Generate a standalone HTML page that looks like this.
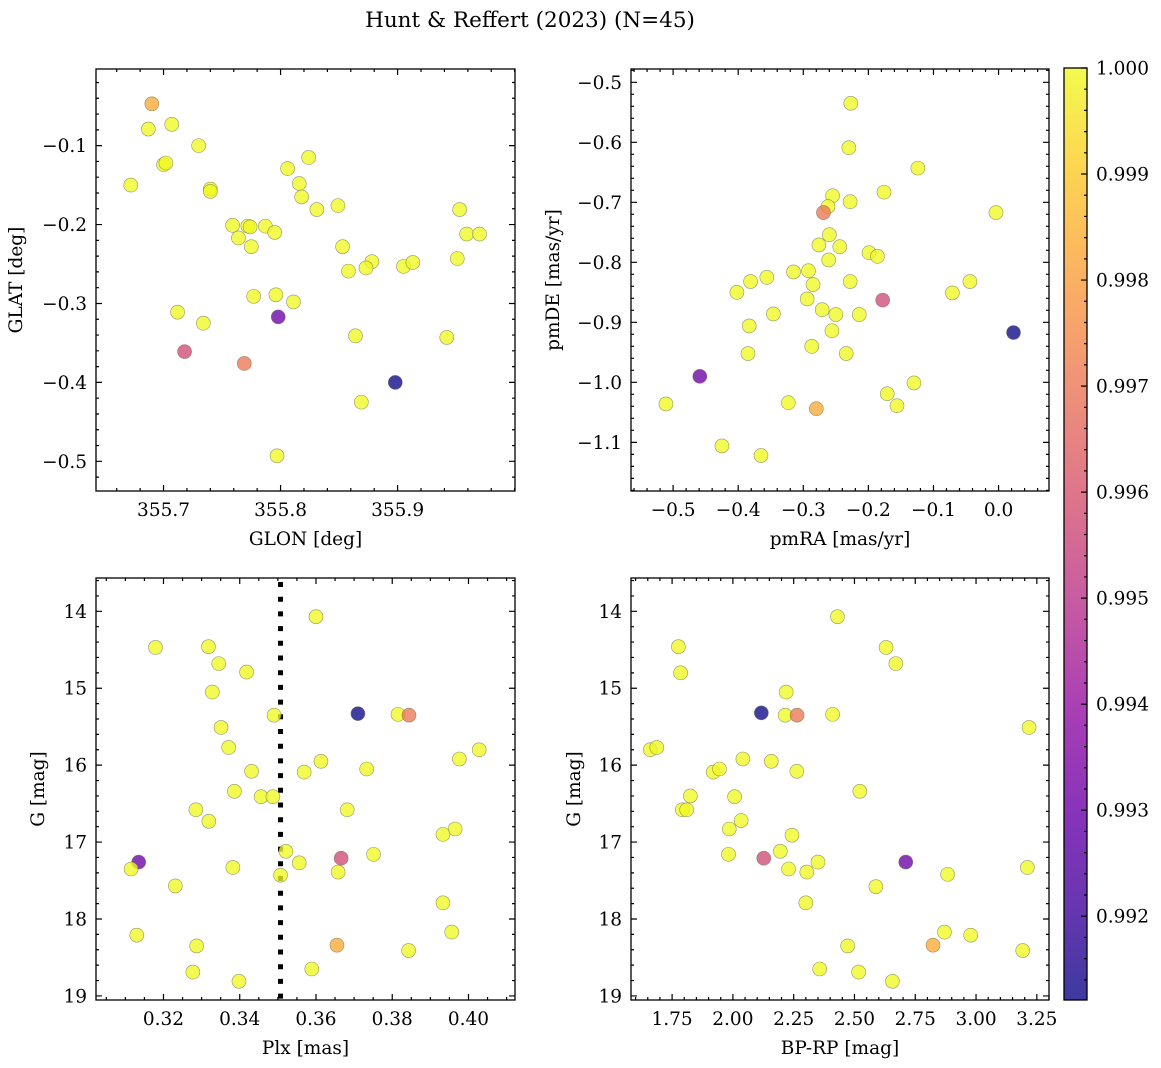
<!DOCTYPE html>
<html><head><meta charset="utf-8"><style>
html,body{margin:0;padding:0;background:#fff}
svg{display:block;font-family:"DejaVu Serif","Liberation Serif",serif}
</style></head><body>
<svg id="fig" width="1161" height="1068" viewBox="0 0 1161 1068" xmlns="http://www.w3.org/2000/svg">
<text x="530" y="27" font-size="21.5" text-anchor="middle">Hunt &amp; Reffert (2023) (N=45)</text>
<defs>
<linearGradient id="plasma" x1="0" y1="1" x2="0" y2="0">
<stop offset="0" stop-color="#0d0887"/><stop offset="0.1" stop-color="#41049d"/><stop offset="0.2" stop-color="#6a00a8"/><stop offset="0.3" stop-color="#8f0da4"/><stop offset="0.4" stop-color="#b12a90"/><stop offset="0.5" stop-color="#cc4778"/><stop offset="0.6" stop-color="#e16462"/><stop offset="0.7" stop-color="#f2844b"/><stop offset="0.8" stop-color="#fca636"/><stop offset="0.9" stop-color="#fcce25"/><stop offset="1" stop-color="#f0f921"/>
</linearGradient>
</defs>
</svg>
<script>
// ---- data ----
const glon = [355.690,355.687,355.707,355.700,355.702,355.730,355.672,355.740,355.740,355.759,355.764,355.772,355.774,355.775,355.787,355.795,355.806,355.816,355.818,355.824,355.831,355.849,355.853,355.858,355.878,355.873,355.905,355.913,355.953,355.959,355.970,355.951,355.777,355.796,355.811,355.712,355.734,355.798,355.718,355.769,355.864,355.942,355.898,355.869,355.797];
const glat = [-0.047,-0.079,-0.073,-0.124,-0.122,-0.100,-0.150,-0.155,-0.158,-0.201,-0.217,-0.202,-0.203,-0.228,-0.202,-0.210,-0.129,-0.148,-0.165,-0.115,-0.181,-0.176,-0.228,-0.259,-0.247,-0.255,-0.253,-0.248,-0.181,-0.212,-0.212,-0.243,-0.291,-0.289,-0.298,-0.311,-0.325,-0.317,-0.361,-0.376,-0.341,-0.343,-0.400,-0.425,-0.493];
const prob1 = [0.9983,1,1,1,1,1,1,1,1,1,1,1,1,1,1,1,1,1,1,1,1,1,1,1,1,1,1,1,1,1,1,1,1,1,1,1,1,0.9930,0.9957,0.9970,1,1,0.9912,1,1];

const pmra = [-0.227,-0.230,-0.124,-0.176,-0.255,-0.262,-0.269,-0.228,-0.004,-0.260,-0.276,-0.244,-0.199,-0.186,-0.261,-0.315,-0.292,-0.285,-0.356,-0.381,-0.402,-0.228,-0.294,-0.178,-0.044,-0.071,-0.271,-0.250,-0.214,-0.346,-0.383,-0.256,0.023,-0.287,-0.234,-0.385,-0.459,-0.130,-0.171,-0.156,-0.511,-0.323,-0.280,-0.425,-0.365];
const pmde = [-0.535,-0.609,-0.643,-0.683,-0.689,-0.707,-0.717,-0.699,-0.717,-0.754,-0.771,-0.774,-0.784,-0.790,-0.796,-0.816,-0.814,-0.837,-0.825,-0.832,-0.850,-0.832,-0.861,-0.863,-0.832,-0.851,-0.879,-0.887,-0.887,-0.886,-0.906,-0.914,-0.917,-0.940,-0.952,-0.952,-0.990,-1.001,-1.019,-1.039,-1.036,-1.034,-1.044,-1.106,-1.122];
const prob2 = [1,1,1,1,1,1,0.9970,1,1,1,1,1,1,1,1,1,1,1,1,1,1,1,1,0.9957,1,1,1,1,1,1,1,1,0.9912,1,1,1,0.9930,1,1,1,1,1,0.9983,1,1];

const plx = [0.3600,0.3179,0.3318,0.3345,0.3418,0.3328,0.3490,0.3710,0.3815,0.3844,0.3351,0.3371,0.4028,0.3976,0.3613,0.3733,0.3431,0.3569,0.3386,0.3456,0.3487,0.3285,0.3682,0.3319,0.3965,0.3933,0.3521,0.3751,0.3135,0.3556,0.3666,0.3115,0.3382,0.3658,0.3507,0.3231,0.3933,0.3130,0.3956,0.3287,0.3655,0.3843,0.3277,0.3589,0.3398];
const gmag3 = [14.07,14.47,14.46,14.68,14.79,15.05,15.35,15.33,15.34,15.35,15.51,15.77,15.80,15.92,15.95,16.05,16.08,16.09,16.34,16.41,16.41,16.58,16.58,16.73,16.83,16.90,17.12,17.16,17.26,17.27,17.21,17.35,17.33,17.39,17.43,17.57,17.79,18.21,18.17,18.35,18.34,18.41,18.69,18.65,18.81];
const prob3 = [1,1,1,1,1,1,1,0.9912,1,0.9970,1,1,1,1,1,1,1,1,1,1,1,1,1,1,1,1,1,1,0.9930,1,0.9957,1,1,1,1,1,1,1,1,1,0.9983,1,1,1,1];
const plxMean = 0.3507;

const bprp = [2.430,1.776,1.785,2.630,2.670,2.219,2.117,2.215,2.264,2.410,3.218,1.660,1.687,2.041,2.158,2.263,1.919,1.945,2.522,1.825,2.007,1.792,1.810,2.034,1.985,2.243,2.195,1.982,2.127,2.350,2.711,2.229,2.304,2.883,3.211,2.588,2.300,2.870,2.978,2.823,2.472,3.192,2.357,2.517,2.656];
const gmag4 = [14.07,14.46,14.80,14.47,14.68,15.05,15.32,15.35,15.35,15.34,15.51,15.80,15.77,15.92,15.95,16.08,16.09,16.05,16.34,16.40,16.41,16.58,16.58,16.72,16.83,16.91,17.12,17.16,17.21,17.26,17.26,17.35,17.39,17.42,17.33,17.58,17.79,18.17,18.21,18.34,18.35,18.41,18.65,18.69,18.81];
const prob4 = [1,1,1,1,1,1,0.9912,1,0.9970,1,1,1,1,1,1,1,1,1,1,1,1,1,1,1,1,1,1,1,0.9957,1,0.9930,1,1,1,1,1,1,1,1,0.9983,1,1,1,1,1];

const cbTicks = [0.992,0.993,0.994,0.995,0.996,0.997,0.998,0.999,1.000];
const vmin = 0.99121, vmax = 1.0;

// ---- helpers ----
const NS = "http://www.w3.org/2000/svg";
const svg = document.getElementById('fig');
const FS = 18.5;
function mk(tag, attrs, parent){const e=document.createElementNS(NS,tag);for(const k in attrs)e.setAttribute(k,attrs[k]);(parent||svg).appendChild(e);return e;}
const stops=[[13,8,135],[65,4,157],[106,0,168],[143,13,164],[177,42,144],[204,71,120],[225,100,98],[242,132,75],[252,166,54],[252,206,37],[240,249,33]];
function plasma(t){t=Math.max(0,Math.min(1,t));const f=t*10,i=Math.min(9,Math.floor(f)),r=f-i;const a=stops[i],b=stops[i+1];return `rgb(${Math.round(a[0]+(b[0]-a[0])*r)},${Math.round(a[1]+(b[1]-a[1])*r)},${Math.round(a[2]+(b[2]-a[2])*r)})`;}
function fmt(v,d){const s=Math.abs(v).toFixed(d);return (v<-1e-9?'\u2212':'')+s;}
function range(a,b,step){const out=[];const s=Math.ceil(a/step-1e-6),e=Math.floor(b/step+1e-6);for(let k=s;k<=e;k++)out.push(k*step);return out;}

function panel(cfg){
  const [L,T,R,B]=cfg.box;
  const sx=v=>L+(v-cfg.x0)/(cfg.x1-cfg.x0)*(R-L);
  const sy=v=>T+(v-cfg.yt)/(cfg.yb-cfg.yt)*(B-T);
  const g=mk('g',{});
  
  
  const xa=Math.min(cfg.x0,cfg.x1),xb=Math.max(cfg.x0,cfg.x1),ya=Math.min(cfg.yt,cfg.yb),yb=Math.max(cfg.yt,cfg.yb);
  let d='';
  range(xa,xb,cfg.xminor).forEach(v=>{const x=sx(v);d+=`M${x},${B}v-3M${x},${T}v3`;});
  range(ya,yb,cfg.yminor).forEach(v=>{const y=sy(v);d+=`M${L},${y}h3M${R},${y}h-3`;});
  cfg.xmaj.forEach(v=>{const x=sx(v);d+=`M${x},${B}v-6M${x},${T}v6`;});
  cfg.ymaj.forEach(v=>{const y=sy(v);d+=`M${L},${y}h6M${R},${y}h-6`;});
  const tk=mk('path',{d:d,stroke:'#000','stroke-width':1.2,fill:'none'},g);
  
  
  cfg.xmaj.forEach(v=>{const t=mk('text',{x:sx(v),y:B+25,'font-size':FS,'text-anchor':'middle'},g);t.textContent=fmt(v,cfg.xd);
    
    });
  cfg.ymaj.forEach(v=>{const t=mk('text',{x:L-9,y:sy(v)+6.5,'font-size':FS,'text-anchor':'end'},g);t.textContent=fmt(v,cfg.yd);
    
    });
  const xl=mk('text',{x:(L+R)/2,y:B+54,'font-size':FS,'text-anchor':'middle'},g);xl.textContent=cfg.xlabel;
  
  
  const yx=cfg.ylx, yy=(T+B)/2;
  const yl=mk('text',{x:yx,y:yy,'font-size':FS,'text-anchor':'middle',transform:`rotate(-90 ${yx} ${yy})`},g);yl.textContent=cfg.ylabel;
  
  
  if(cfg.vline!==undefined){
    const vl=mk('line',{x1:sx(cfg.vline),x2:sx(cfg.vline),y1:T+4,y2:B,stroke:'#000','stroke-width':5,'stroke-dasharray':'5 9.7'},g);
    
    
  }
  cfg.xs.forEach((xv,i)=>{
    const c=mk('circle',{cx:sx(xv),cy:sy(cfg.ys[i]),r:7,fill:plasma((cfg.p[i]-vmin)/(vmax-vmin)),'fill-opacity':0.78,stroke:'#6b6b4a','stroke-opacity':0.7,'stroke-width':0.6},g);
    
    
  });
  const fr=mk('rect',{x:L,y:T,width:R-L,height:B-T,fill:'none',stroke:'#000','stroke-width':1.3},g);
  
  
}

panel({name:'glon-glat-panel',box:[96,69,515,491],x0:355.6423,x1:356.0003,yt:-0.0029,yb:-0.5376,
  xmaj:[355.7,355.8,355.9],ymaj:[-0.1,-0.2,-0.3,-0.4,-0.5],xminor:0.02,yminor:0.02,xd:1,yd:1,
  xlabel:'GLON [deg]',ylabel:'GLAT [deg]',ylx:22,xs:glon,ys:glat,p:prob1});
panel({name:'proper-motion-panel',box:[631,69,1049,491],x0:-0.5647,x1:0.0775,yt:-0.4778,yb:-1.1811,
  xmaj:[-0.5,-0.4,-0.3,-0.2,-0.1,0.0],ymaj:[-0.5,-0.6,-0.7,-0.8,-0.9,-1.0,-1.1],xminor:0.02,yminor:0.02,xd:1,yd:1,
  xlabel:'pmRA [mas/yr]',ylabel:'pmDE [mas/yr]',ylx:559,xs:pmra,ys:pmde,p:prob2});
panel({name:'parallax-g-panel',box:[96,578,515,1000],x0:0.3023,x1:0.4122,yt:13.567,yb:19.053,
  xmaj:[0.32,0.34,0.36,0.38,0.40],ymaj:[14,15,16,17,18,19],xminor:0.005,yminor:0.2,xd:2,yd:0,
  xlabel:'Plx [mas]',ylabel:'G [mag]',ylx:44,xs:plx,ys:gmag3,p:prob3,vline:plxMean});
panel({name:'cmd-panel',box:[631,578,1049,1000],x0:1.581,x1:3.300,yt:13.567,yb:19.053,
  xmaj:[1.75,2.00,2.25,2.50,2.75,3.00,3.25],ymaj:[14,15,16,17,18,19],xminor:0.05,yminor:0.2,xd:2,yd:0,
  xlabel:'BP-RP [mag]',ylabel:'G [mag]',ylx:580,xs:bprp,ys:gmag4,p:prob4});

// colorbar
(function(){
  const L=1064,R=1087,T=68,B=1000;
  const g=mk('g',{});
  
  
  mk('rect',{x:L,y:T,width:R-L,height:B-T,fill:'url(#plasma)','fill-opacity':0.8},g);
  const cy=v=>B-(v-vmin)/(vmax-vmin)*(B-T);
  let d='';
  range(vmin,vmax,0.0002).forEach(v=>{d+=`M${R},${cy(v)}h-3`;});
  cbTicks.forEach(v=>{d+=`M${R},${cy(v)}h-6`;});
  mk('path',{d:d,stroke:'#000','stroke-width':1.2},g);
  cbTicks.forEach(v=>{const t=mk('text',{x:R+9,y:cy(v)+6.5,'font-size':FS},g);t.textContent=v.toFixed(3);
    
    });
  mk('rect',{x:L,y:T,width:R-L,height:B-T,fill:'none',stroke:'#000','stroke-width':1.3},g);
})();
</script>
</body></html>
